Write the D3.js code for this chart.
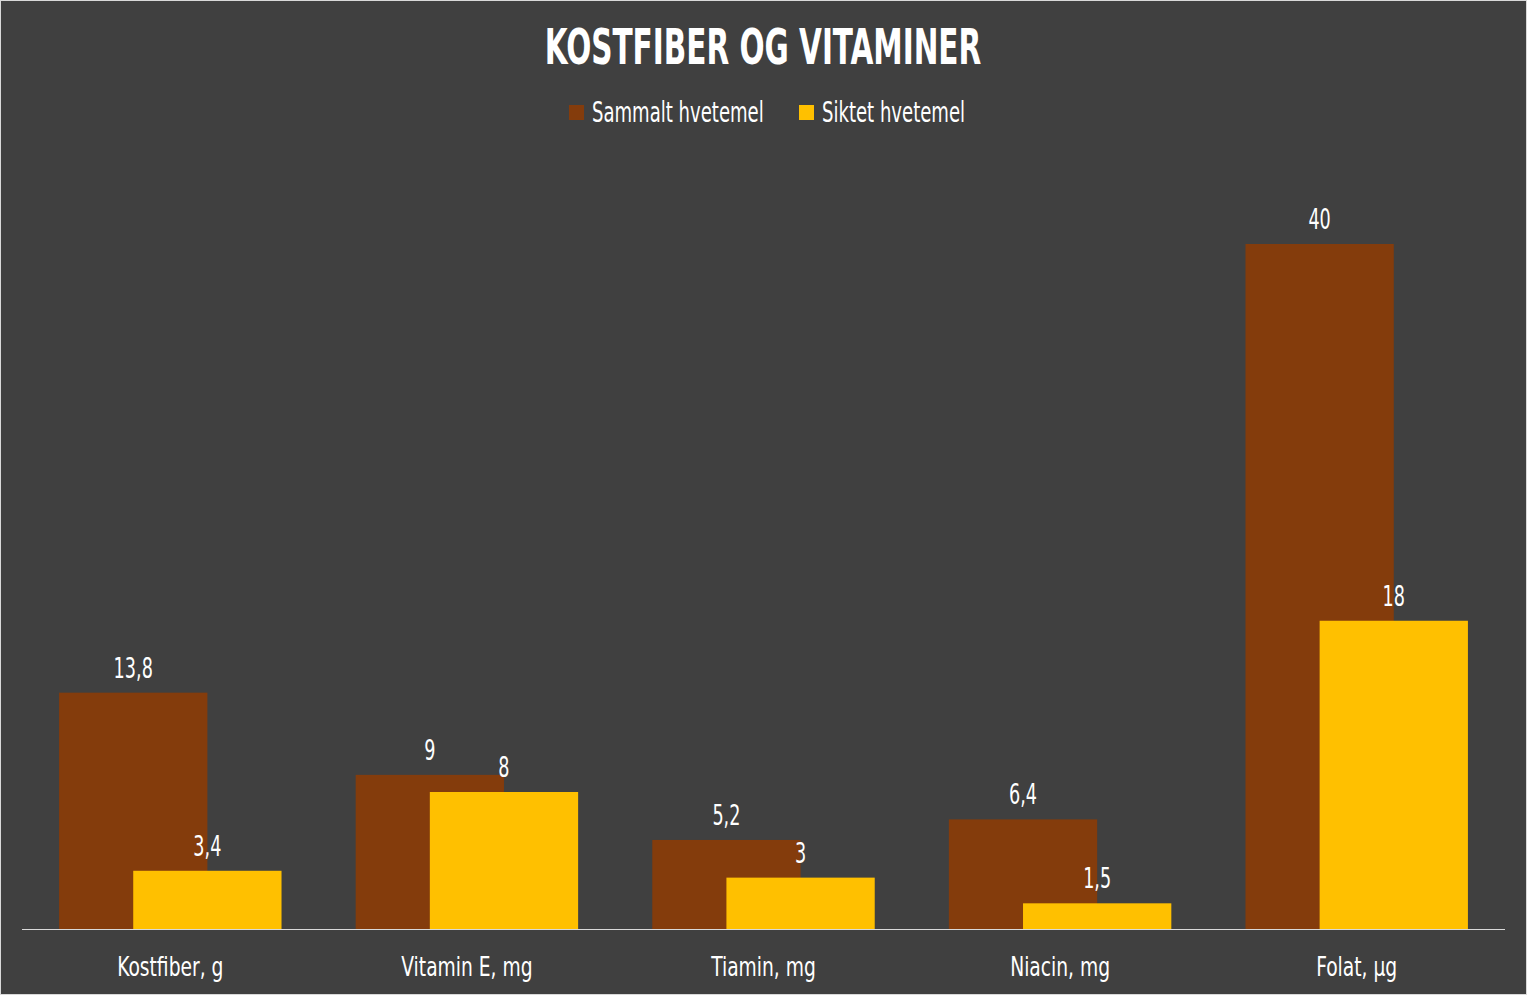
<!DOCTYPE html>
<html><head><meta charset="utf-8">
<script src="https://cdn.jsdelivr.net/npm/d3@7"></script>
<style>
html,body{margin:0;padding:0;background:#404040;}
svg{display:block;}
</style></head>
<body>
<script>
const categories = ["Kostfiber, g","Vitamin E, mg","Tiamin, mg","Niacin, mg","Folat, µg"];
const seriesNames = ["Sammalt hvetemel","Siktet hvetemel"];
const sammalt = [13.8, 9, 5.2, 6.4, 40];
const siktet = [3.4, 8, 3, 1.5, 18];
const labelsSammalt = ["13,8","9","5,2","6,4","40"];
const labelsSiktet = ["3,4","8","3","1,5","18"];
const colors = ["#843C0C","#FFC000"];

const W = 1527, H = 995;
const FONT = "'DejaVu Sans Condensed','Liberation Sans Narrow',sans-serif";
const svg = d3.select("body").append("svg").attr("width",W).attr("height",H);
svg.append("rect").attr("x",0.5).attr("y",0.5).attr("width",W-1).attr("height",H-1)
  .attr("fill","#404040").attr("stroke","#d9d9d9");

const x0 = d3.scaleBand().domain(categories).range([22,1505]).paddingInner(0.25).paddingOuter(0.125);
const y = d3.scaleLinear().domain([0,40]).range([929,244]);
const bw = x0.bandwidth()*2/3;
const off = x0.bandwidth()/3;

function ctext(x, yy, s, size, txt, anchor, weight){
  return svg.append("text").attr("transform",`translate(${x},${yy}) scale(${s},1)`)
    .attr("text-anchor",anchor||"middle").attr("font-family",FONT)
    .attr("font-weight",weight||"normal").attr("font-size",size).attr("fill","#fff").text(txt);
}

ctext(763, 64, 0.67, 49, "KOSTFIBER OG VITAMINER", "middle", "bold");

// legend
const leg = [{x:569,name:seriesNames[0],c:colors[0]},{x:799,name:seriesNames[1],c:colors[1]}];
leg.forEach(l=>{
  svg.append("rect").attr("x",l.x).attr("y",105).attr("width",15).attr("height",15).attr("fill",l.c);
  ctext(l.x+23, 121.5, 0.73, 27.5, l.name, "start");
});

const data = [sammalt, siktet];
const labs = [labelsSammalt, labelsSiktet];
data.forEach((arr,si)=>{
  const g = svg.append("g");
  g.selectAll("rect").data(arr).join("rect")
    .attr("x",(d,i)=>x0(categories[i])+si*off)
    .attr("y",d=>y(d)).attr("width",bw).attr("height",d=>y(0)-y(d)).attr("fill",colors[si]);
  arr.forEach((d,i)=>{
    ctext(x0(categories[i])+si*off+bw/2, y(d)-15, 0.70, 28, labs[si][i], "middle");
  });
});

const xAxis = svg.append("g").attr("transform","translate(0,929)")
  .call(d3.axisBottom(x0).tickSize(0).tickPadding(0));
xAxis.select(".domain").attr("stroke","#d9d9d9").attr("d","M22,0.5H1505");
xAxis.selectAll(".tick text").attr("font-family",FONT).attr("font-size",27).attr("fill","#fff")
  .attr("dy",null).attr("y",null).attr("transform","translate(0,46.5) scale(0.77,1)");
</script>
</body></html>
